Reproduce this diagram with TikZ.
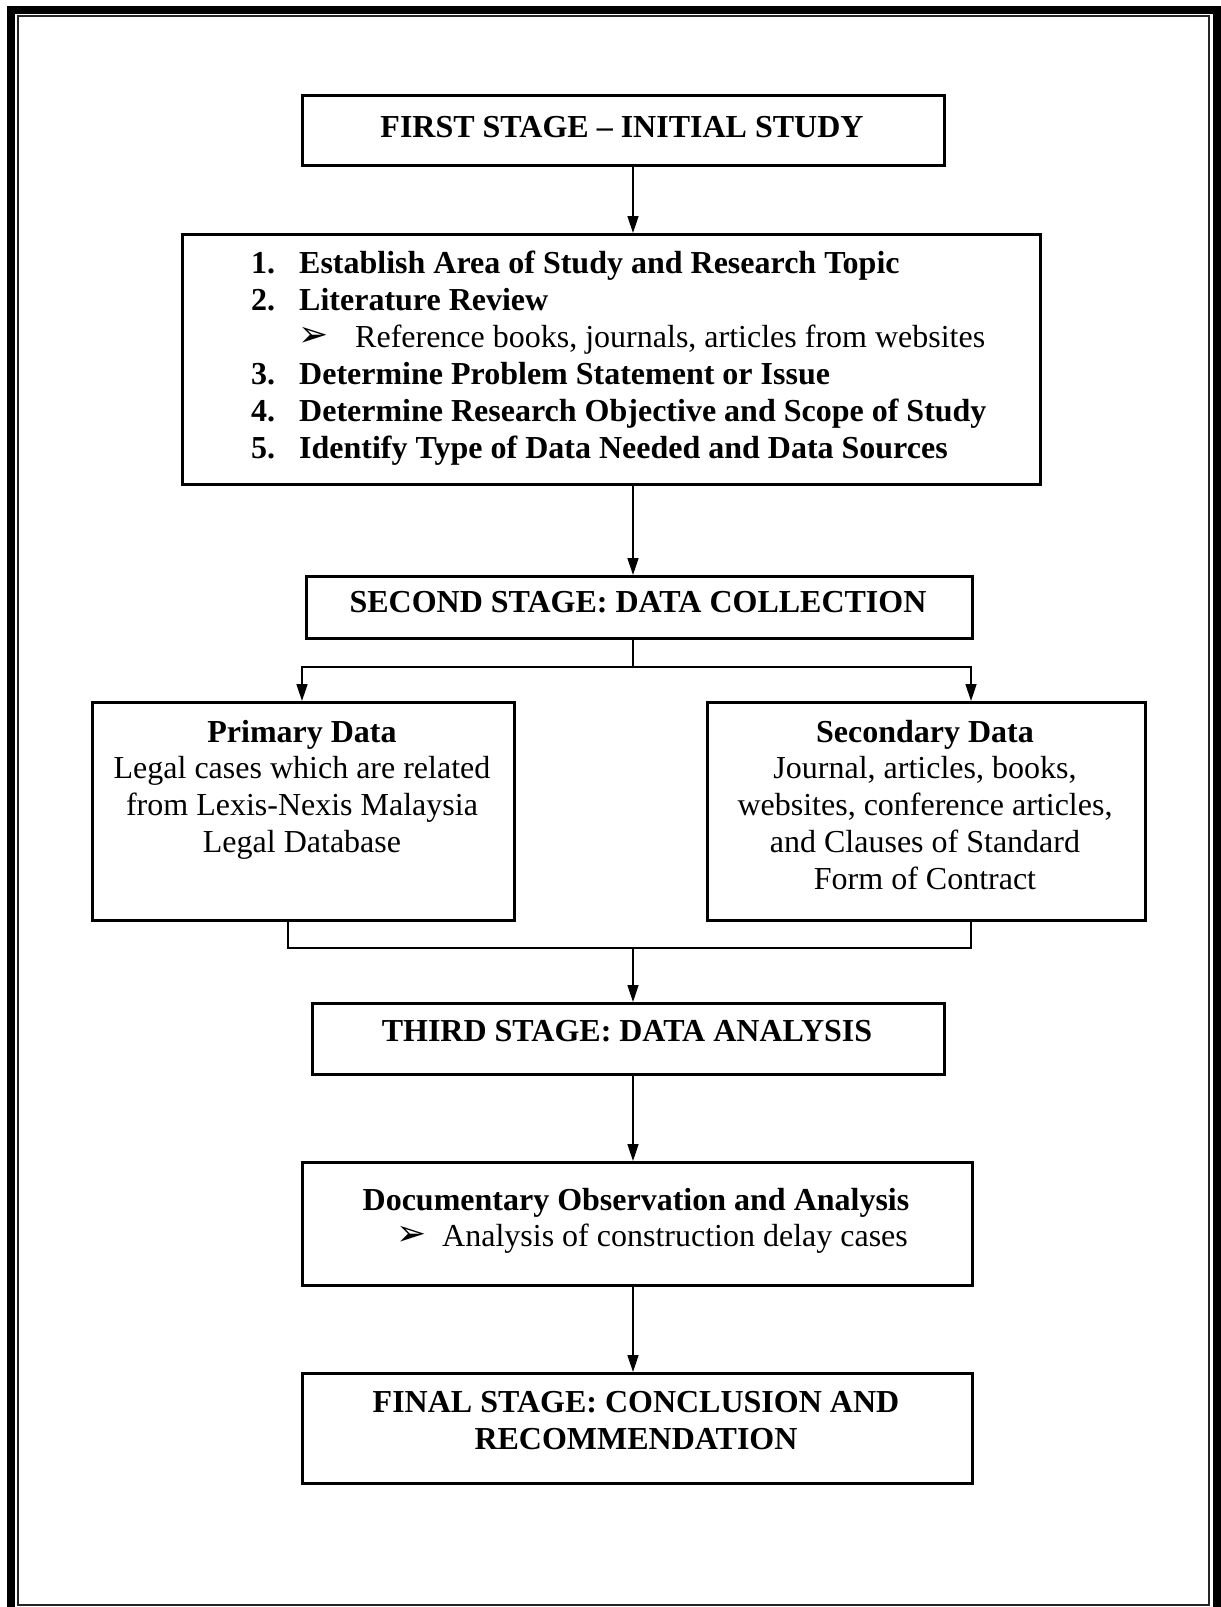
\documentclass[tikz,border=0pt]{standalone}
\usepackage{fontspec}
\setmainfont{Liberation Serif}
\newfontfamily\symfont{DejaVu Sans}
\usetikzlibrary{arrows.meta}
\newcommand{\arrbul}{{\symfont\fontsize{36}{36}\selectfont ➢}}
\begin{document}
\begin{tikzpicture}[x=1pt,y=-1pt,
  stagebox/.style={draw,line width=3pt,minimum width=#1,anchor=north west,inner sep=0pt},
  txt/.style={inner sep=0pt,anchor=base,font=\fontsize{32}{37}\selectfont},
  btxt/.style={txt,font=\fontsize{32}{37}\selectfont\bfseries},
  ltxt/.style={txt,anchor=base west},
  lbtxt/.style={btxt,anchor=base west},
  conn/.style={line width=1.5pt},
  arr/.style={conn,-{Triangle[length=17pt,width=11pt]}}]
\useasboundingbox (0,0) rectangle (1221,1607);
% frame
\draw[line width=8pt] (11,10) rectangle (1217,1612);
\draw[line width=2pt,black!85] (18,16) rectangle (1209,1605);
% boxes
\node[stagebox=642pt,minimum height=70pt] (b1) at (301,94) {};
\node[stagebox=858pt,minimum height=250pt] (b2) at (181,233) {};
\node[stagebox=666pt,minimum height=62pt] (b3) at (305,575) {};
\node[stagebox=422pt,minimum height=218pt] (bp) at (91,701) {};
\node[stagebox=438pt,minimum height=218pt] (bs) at (706,701) {};
\node[stagebox=632pt,minimum height=71pt] (b4) at (311,1002) {};
\node[stagebox=670pt,minimum height=123pt] (b5) at (301,1161) {};
\node[stagebox=670pt,minimum height=110pt] (b6) at (301,1372) {};
% texts
\node[btxt] (t1) at (622,137) {FIRST STAGE – INITIAL STUDY};
\node[lbtxt] (n1) at (251,273) {1.};
\node[lbtxt] (l1) at (299,273) {Establish Area of Study and Research Topic};
\node[lbtxt] (n2) at (251,310) {2.};
\node[lbtxt] (l2) at (299,310) {Literature Review};
\node[ltxt] (m2) at (298,346) {\arrbul};
\node[ltxt] (l2a) at (355,347) {Reference books, journals, articles from websites};
\node[lbtxt] (n3) at (251,384) {3.};
\node[lbtxt] (l3) at (299,384) {Determine Problem Statement or Issue};
\node[lbtxt] (n4) at (251,421) {4.};
\node[lbtxt] (l4) at (299,421) {Determine Research Objective and Scope of Study};
\node[lbtxt] (n5) at (251,458) {5.};
\node[lbtxt] (l5) at (299,458) {Identify Type of Data Needed and Data Sources};
\node[btxt] (t3) at (638,612) {SECOND STAGE: DATA COLLECTION};
\node[btxt] (tp1) at (302,742) {Primary Data};
\node[txt] (tp2) at (302,778) {Legal cases which are related};
\node[txt] (tp3) at (302,815) {from Lexis-Nexis Malaysia};
\node[txt] (tp4) at (302,852) {Legal Database};
\node[btxt] (ts1) at (925,742) {Secondary Data};
\node[txt] (ts2) at (925,778) {Journal, articles, books,};
\node[txt] (ts3) at (925,815) {websites, conference articles,};
\node[txt] (ts4) at (925,852) {and Clauses of Standard};
\node[txt] (ts5) at (925,889) {Form of Contract};
\node[btxt] (t4) at (627,1041) {THIRD STAGE: DATA ANALYSIS};
\node[btxt] (t5) at (636,1210) {Documentary Observation and Analysis};
\node[ltxt] (m5) at (396,1245) {\arrbul};
\node[ltxt] (t5a) at (442,1246) {Analysis of construction delay cases};
\node[btxt] (t6a) at (636,1412) {FINAL STAGE: CONCLUSION AND};
\node[btxt] (t6b) at (636,1449) {RECOMMENDATION};
% connectors
\coordinate (j1) at (633,667);
\coordinate (j2) at (633,948);
\draw[arr] (b1.south -| j1) -- (b2.north -| j1);
\draw[arr] (b2.south -| j1) -- (b3.north -| j1);
\draw[conn] (b3.south -| j1) -- (j1);
\draw[arr] (j1) -- (302,667) -- (bp.north -| 302,0);
\draw[arr] (j1) -- (971,667) -- (bs.north -| 971,0);
\draw[conn] (bp.south -| 288,0) -- (288,948) -- (j2);
\draw[conn] (bs.south -| 971,0) -- (971,948) -- (j2);
\draw[arr] (j2) -- (b4.north -| j2);
\draw[arr] (b4.south -| j2) -- (b5.north -| j2);
\draw[arr] (b5.south -| j2) -- (b6.north -| j2);
\end{tikzpicture}
\end{document}
